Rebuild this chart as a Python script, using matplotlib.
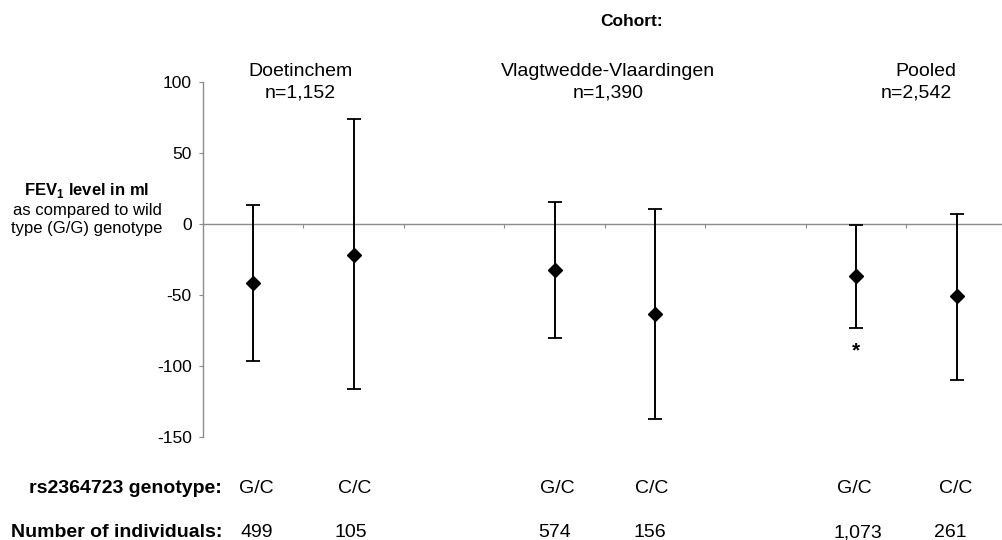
import matplotlib
matplotlib.use('Agg')
import matplotlib.pyplot as plt
import numpy as np

plt.rcParams['font.family'] = ['Liberation Sans', 'DejaVu Sans']
plt.rcParams['mathtext.fontset'] = 'custom'
plt.rcParams['mathtext.rm'] = 'Liberation Sans'
plt.rcParams['mathtext.bf'] = 'Liberation Sans:bold'

# ---- data ----
cohorts = ['Doetinchem', 'Vlagtwedde-Vlaardingen', 'Pooled']
cohort_n = ['n=1,152', 'n=1,390', 'n=2,542']
genotypes = ['G/C', 'C/C', 'G/C', 'C/C', 'G/C', 'C/C']
individuals = ['499', '105', '574', '156', '1,073', '261']
means = np.array([-41.5, -21.8, -32.4, -63.4, -36.9, -51.0])
lower = np.array([-97.0, -116.5, -80.3, -137.3, -73.5, -110.4])
upper = np.array([13.4, 73.5, 15.2, 10.6, -0.7, 7.0])
significant = [False, False, False, False, True, False]
yticks = [-150, -100, -50, 0, 50, 100]

W, H = 1002, 540
GREY = '#8c8c8c'


def px(x, y):
    return x / W, 1 - y / H


fig = plt.figure(figsize=(W / 100, H / 100), dpi=100)
ax = fig.add_axes([202.75 / W, 1 - 436.7 / H, 804.25 / W, 355.0 / H])

group = np.repeat(np.arange(len(cohorts)), 2)
within = np.tile([0, 1], len(cohorts))
x = group * 3 + within

ax.errorbar(x, means, yerr=[means - lower, upper - means], fmt='D',
            color='black', ms=7.3, ecolor='black', elinewidth=1.4,
            capsize=5, capthick=1.3, zorder=3)

for xi, lo, sig in zip(x, lower, significant):
    if sig:
        ax.text(xi, lo - 16, '*', ha='center', va='center', fontsize=15,
                fontweight='bold')

ax.set_xlim(-0.5, 7.5)
ax.set_ylim(-150, 100)
for s in ['top', 'right']:
    ax.spines[s].set_visible(False)
ax.spines['bottom'].set_position(('data', 0))
ax.spines['bottom'].set_color(GREY)
ax.spines['left'].set_color(GREY)
ax.spines['bottom'].set_linewidth(1.0)
ax.spines['left'].set_linewidth(1.0)
ax.set_xticks(np.arange(0.5, 7.5, 1))
ax.set_xticklabels([])
ax.tick_params(axis='x', direction='out', length=3, color=GREY, width=0.8)
ax.set_yticks(yticks)
ax.set_yticklabels([str(t) for t in yticks])
ax.tick_params(axis='y', direction='out', length=3, color=GREY, width=0.8,
               labelsize=12.5, pad=5)
ax.patch.set_visible(False)

# y label
fig.text(*px(87, 191), r'FEV$_\mathbf{1}$ level in ml', ha='center', va='center',
         fontsize=12, fontweight='bold')
fig.text(*px(87, 210), 'as compared to wild', ha='center', va='center', fontsize=12)
fig.text(*px(87, 229), 'type (G/G) genotype', ha='center', va='center', fontsize=12)

# titles
fig.text(*px(632, 21), 'Cohort:', ha='center', va='center', fontsize=12.5,
         fontweight='bold')
title_x = [300, 608, 926]
n_x = [300, 608, 916]
for c, n, tx, nx in zip(cohorts, cohort_n, title_x, n_x):
    fig.text(*px(tx, 76), c, ha='center', va='baseline', fontsize=14)
    fig.text(*px(nx, 98), n, ha='center', va='baseline', fontsize=14)

# bottom table
fig.text(*px(222, 493), 'rs2364723 genotype:', ha='right', va='baseline',
         fontsize=14, fontweight='bold')
fig.text(*px(222, 537), 'Number of individuals:', ha='right', va='baseline',
         fontsize=14, fontweight='bold')
geno_x = [256, 355, 557, 652, 854, 956]
num_x = [257, 351, 555, 650, 858, 950]
for g, n, gx, nx in zip(genotypes, individuals, geno_x, num_x):
    fig.text(*px(gx, 493), g, ha='center', va='baseline', fontsize=14)
    fig.text(*px(nx, 537), n, ha='center', va='baseline', fontsize=14)

fig.savefig('out.png', dpi=100)
